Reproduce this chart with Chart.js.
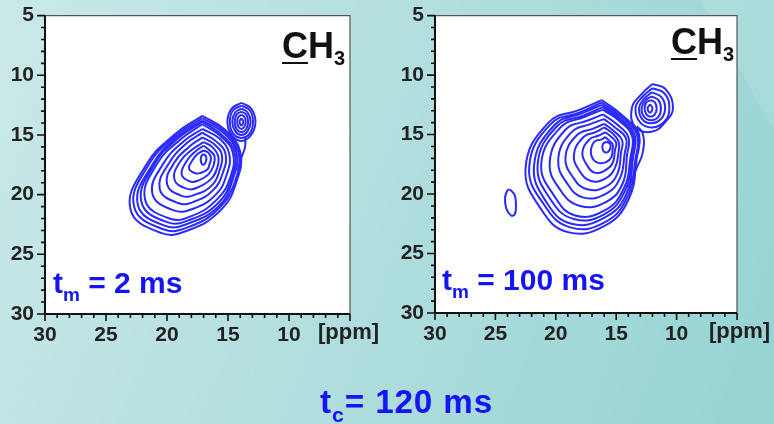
<!DOCTYPE html>
<html>
<head>
<meta charset="utf-8">
<script src="https://cdn.jsdelivr.net/npm/chart.js@4/dist/chart.umd.min.js"></script>
<style>
  html, body { margin: 0; padding: 0; }
  body {
    width: 774px; height: 424px; overflow: hidden; position: relative;
    background: linear-gradient(110deg, #cbe8e8 0%, #b3dfdf 45%, #96d3d3 100%);
    font-family: Arial, "Liberation Sans", sans-serif;
  }
  .band {
    position: absolute; left: 0; top: 0; width: 774px; height: 424px;
    background: rgba(255,255,255,0.12);
    clip-path: polygon(700px 0, 774px 0, 774px 130px);
  }
  .box { position: absolute; top: 0; height: 350px; }
  .lbl { position: absolute; white-space: nowrap; }
  .tm { font-size: 30px; line-height: 30px; font-weight: bold; color: #1414f5; }
  .tm sub { font-size: 19px; vertical-align: -8px; line-height: 0; }
  .ch { font-size: 36px; line-height: 36px; font-weight: bold; color: #111; }
  .ch u { text-decoration-thickness: 2px; text-underline-offset: 4px; }
  .ch sub { font-size: 20px; vertical-align: -7px; line-height: 0; }
  .ppm { font-size: 22px; line-height: 22px; font-weight: bold; color: #222; }
  .tc { font-size: 33px; line-height: 33px; font-weight: bold; color: #1414f5; letter-spacing: 1px; }
  .tc sub { font-size: 21px; vertical-align: -9px; line-height: 0; }
</style>
</head>
<body>
<div class="band"></div>
<div class="box" style="left:0;width:390px"><canvas id="left" width="390" height="350"></canvas></div>
<div class="box" style="left:390px;width:384px"><canvas id="right" width="384" height="350"></canvas></div>

<div class="lbl ch" style="left:282px;top:28px"><u>C</u>H<sub>3</sub></div>
<div class="lbl ch" style="left:671px;top:24px"><u>C</u>H<sub>3</sub></div>
<div class="lbl tm" style="left:53px;top:268px">t<sub>m</sub> = 2 ms</div>
<div class="lbl tm" style="left:442px;top:265px">t<sub>m</sub> = 100 ms</div>
<div class="lbl ppm" style="left:318px;top:321px">[ppm]</div>
<div class="lbl ppm" style="left:709px;top:320px">[ppm]</div>
<div class="lbl tc" style="left:320px;top:385px">t<sub>c</sub>= 120 ms</div>

<script>
// ---------- 축 (ppm, 양쪽 모두 30 -> 5) ----------
const AXIS_MIN = 5;
const AXIS_MAX = 30;
const xTickLabels = [30, 25, 20, 15, 10];
const yTickLabels = [5, 10, 15, 20, 25, 30];

// ---------- t_m = 2 ms : 주 피크 등고선 (바깥 -> 안쪽), [x ppm, y ppm] ----------
const mainRings2ms = [
  [[17.1,13.4],[15.2,14.6],[14.0,16.4],[14.3,18.9],[15.6,21.3],[18.3,23.0],[20.5,23.2],[23.0,21.2],[21.7,17.5],[19.3,14.9]],
  [[17.1,13.6],[15.3,14.7],[14.15,16.4],[14.4,18.8],[15.7,21.1],[18.2,22.7],[20.3,22.9],[22.7,21.0],[21.5,17.5],[19.2,15.0]],
  [[17.1,13.8],[15.4,14.8],[14.3,16.5],[14.6,18.7],[15.7,20.9],[18.2,22.4],[20.2,22.6],[22.4,20.8],[21.2,17.5],[19.1,15.1]],
  [[17.1,13.9],[15.5,15.0],[14.45,16.5],[14.7,18.6],[15.8,20.7],[18.1,22.1],[20.0,22.3],[22.1,20.6],[21.0,17.4],[19.0,15.2]],
  [[17.1,14.1],[15.6,15.1],[14.6,16.5],[14.8,18.5],[15.9,20.4],[18.0,21.8],[19.8,22.0],[21.8,20.4],[20.8,17.4],[18.8,15.3]],
  [[17.1,14.5],[15.7,15.3],[14.9,16.6],[15.1,18.3],[16.0,20.0],[17.9,21.2],[19.5,21.3],[21.2,19.9],[20.3,17.4],[18.6,15.5]],
  [[17.1,14.8],[15.9,15.6],[15.2,16.6],[15.4,18.1],[16.2,19.6],[17.8,20.6],[19.1,20.7],[20.6,19.5],[19.8,17.3],[18.4,15.7]],
  [[17.1,15.2],[16.1,15.8],[15.5,16.7],[15.7,18.0],[16.3,19.2],[17.7,20.0],[18.8,20.1],[20.0,19.1],[19.4,17.3],[18.2,16.0]],
  [[17.0,15.6],[16.3,16.0],[15.8,16.8],[15.9,17.8],[16.4,18.7],[17.5,19.4],[18.4,19.5],[19.4,18.7],[18.9,17.2],[17.9,16.2]],
  [[17.0,15.9],[16.5,16.3],[16.1,16.8],[16.2,17.6],[16.6,18.3],[17.4,18.8],[18.1,18.9],[18.8,18.3],[18.4,17.2],[17.7,16.4]],
  [[17.0,16.3],[16.6,16.5],[16.4,16.9],[16.5,17.4],[16.7,17.9],[17.3,18.2],[17.7,18.2],[18.2,17.8],[17.9,17.1],[17.5,16.6]],
  [[17.0,16.6],[16.8,16.8],[16.8,17.2],[17.0,17.5],[17.2,17.3],[17.2,16.8]],
];

// t_m = 2 ms : 작은 피크 (~13.9 ppm)
const smallRings2ms = [
  [[13.9,12.3],[13.1,12.8],[12.75,13.9],[13.1,15.0],[13.9,15.5],[14.7,15.0],[15.05,13.9],[14.7,12.8]],
  [[13.9,12.55],[13.2,12.95],[12.95,13.9],[13.2,14.85],[13.9,15.25],[14.6,14.85],[14.85,13.9],[14.6,12.95]],
  [[13.9,12.8],[13.4,13.1],[13.15,13.9],[13.4,14.7],[13.9,15.0],[14.4,14.7],[14.65,13.9],[14.4,13.1]],
  [[13.9,13.05],[13.5,13.3],[13.35,13.9],[13.5,14.5],[13.9,14.75],[14.3,14.5],[14.45,13.9],[14.3,13.3]],
  [[13.9,13.3],[13.65,13.5],[13.55,13.9],[13.65,14.3],[13.9,14.5],[14.15,14.3],[14.25,13.9],[14.15,13.5]],
  [[13.9,13.6],[13.75,13.9],[13.9,14.2],[14.05,13.9]],
];

// 두 피크 사이를 잇는 열린 등고선
const bridges2ms = [
  [[14.7,15.0],[14.5,15.8],[14.0,16.5]],
  [[13.6,15.2],[13.6,16.0],[13.9,16.9],[14.2,18.0]],
];

// ---------- t_m = 100 ms ----------
const mainRings100ms = [
  [[16.2,12.1],[14.6,13.3],[13.2,14.9],[13.3,17.0],[14.0,20.5],[16.0,22.7],[19.0,23.2],[21.2,21.3],[22.5,17.8],[20.6,14.0],[18.0,12.9]],
  [[16.2,12.3],[14.7,13.4],[13.3,15.0],[13.4,17.0],[14.1,20.3],[16.0,22.4],[18.8,22.8],[20.9,21.0],[22.2,17.7],[20.4,14.1],[17.9,13.1]],
  [[16.2,12.5],[14.7,13.6],[13.5,15.0],[13.6,16.9],[14.2,20.1],[16.0,22.0],[18.7,22.5],[20.7,20.8],[21.8,17.6],[20.1,14.2],[17.8,13.2]],
  [[16.1,12.7],[14.8,13.7],[13.6,15.1],[13.7,16.9],[14.3,19.8],[16.0,21.7],[18.5,22.1],[20.4,20.5],[21.5,17.5],[19.9,14.3],[17.7,13.4]],
  [[16.1,12.9],[14.8,13.8],[13.7,15.1],[13.8,16.8],[14.4,19.6],[16.0,21.4],[18.4,21.8],[20.1,20.2],[21.2,17.4],[19.6,14.4],[17.6,13.5]],
  [[16.1,13.3],[15.0,14.1],[14.0,15.2],[14.1,16.7],[14.5,19.2],[15.9,20.7],[18.0,21.0],[19.6,19.7],[20.5,17.3],[19.2,14.6],[17.3,13.8]],
  [[16.0,13.7],[15.1,14.4],[14.2,15.3],[14.3,16.6],[14.7,18.7],[15.9,20.0],[17.7,20.3],[19.0,19.2],[19.8,17.1],[18.7,14.8],[17.1,14.1]],
  [[16.0,14.1],[15.2,14.7],[14.5,15.5],[14.6,16.5],[14.9,18.3],[15.9,19.4],[17.4,19.6],[18.5,18.7],[19.2,16.9],[18.2,15.0],[16.9,14.5]],
  [[16.0,14.4],[15.3,14.9],[14.8,15.6],[14.8,16.4],[15.1,17.8],[15.9,18.7],[17.1,18.9],[18.0,18.1],[18.5,16.7],[17.7,15.2],[16.7,14.8]],
  [[15.9,14.8],[15.4,15.2],[15.0,15.7],[15.1,16.3],[15.3,17.4],[15.9,18.0],[16.8,18.2],[17.4,17.6],[17.8,16.5],[17.2,15.4],[16.5,15.1]],
  [[15.9,15.2],[15.6,15.5],[15.3,15.8],[15.3,16.2],[15.4,16.9],[15.8,17.3],[16.4,17.4],[16.9,17.1],[17.1,16.4],[16.8,15.6],[16.2,15.4]],
  [[15.8,15.6],[15.5,15.8],[15.5,16.2],[15.8,16.5],[16.1,16.3],[16.1,15.8]],
];

const smallRings100ms = [
  [[12.0,10.75],[10.9,11.2],[10.3,12.75],[10.9,13.9],[12.0,14.75],[13.4,14.4],[13.7,12.75],[12.9,11.6]],
  [[12.0,11.1],[11.0,11.55],[10.6,12.75],[11.0,13.9],[12.0,14.4],[13.0,14.0],[13.4,12.75],[12.8,11.8]],
  [[12.05,11.45],[11.25,11.85],[10.95,12.75],[11.25,13.65],[12.1,14.05],[12.85,13.7],[13.1,12.75],[12.7,12.0]],
  [[12.1,11.8],[11.5,12.1],[11.3,12.8],[11.5,13.5],[12.1,13.8],[12.7,13.5],[12.9,12.8],[12.6,12.15]],
  [[12.15,12.1],[11.8,12.3],[11.65,12.8],[11.8,13.3],[12.15,13.5],[12.5,13.3],[12.65,12.8],[12.5,12.3]],
  [[12.2,12.45],[12.0,12.8],[12.2,13.15],[12.4,12.8]],
];

const bridges100ms = [
  [[13.3,14.3],[12.8,14.9],[12.8,16.5],[13.3,17.8],[14.0,19.5]],
  [[13.6,14.2],[13.1,15.0],[13.2,16.6]],
];

// 24 ppm 근처의 고립된 작은 등고선
const isolated100ms = [
  [[23.8,19.6],[23.4,20.1],[23.3,21.0],[23.4,21.7],[23.7,21.8],[24.1,21.2],[24.2,20.3],[24.0,19.7]],
];

// ---------- 스타일 ----------
const CONTOUR_COLOR = '#2a2aff';
const AXIS_COLOR = '#111';

function toPoints(ring, closed) {
  const pts = ring.map(([x, y]) => ({ x, y }));
  if (closed) pts.push({ x: ring[0][0], y: ring[0][1] });
  return pts;
}

function contourSets(rings, closed) {
  return rings.map((r) => ({
    data: toPoints(r, closed),
    showLine: true,
    borderColor: CONTOUR_COLOR,
    borderWidth: 2,
    pointRadius: 0,
    tension: 0.45,
    fill: false,
  }));
}

// 흰 플롯 영역 + 위/오른쪽 얇은 테두리 + 주/보조 눈금
const framePlugin = {
  id: 'frame',
  beforeDatasetsDraw(chart) {
    const { ctx, chartArea: a } = chart;
    ctx.save();
    ctx.fillStyle = '#fff';
    ctx.fillRect(a.left, a.top, a.right - a.left, a.bottom - a.top);
    ctx.restore();
  },
  afterDraw(chart) {
    const { ctx, chartArea: a, scales: { x, y } } = chart;
    ctx.save();
    ctx.strokeStyle = '#555';
    ctx.lineWidth = 1.2;
    ctx.beginPath();
    ctx.moveTo(a.left, a.top);
    ctx.lineTo(a.right, a.top);
    ctx.lineTo(a.right, a.bottom);
    ctx.stroke();

    ctx.strokeStyle = AXIS_COLOR;
    ctx.lineWidth = 2;
    ctx.beginPath();
    ctx.moveTo(a.left, a.top);
    ctx.lineTo(a.left, a.bottom);
    ctx.lineTo(a.right, a.bottom);
    ctx.stroke();

    ctx.lineWidth = 1.6;
    ctx.beginPath();
    for (const t of x.ticks) {
      const px = x.getPixelForValue(t.value);
      const len = t.value % 5 === 0 ? 7 : 4;
      ctx.moveTo(px, a.bottom);
      ctx.lineTo(px, a.bottom + len);
    }
    for (const t of y.ticks) {
      const py = y.getPixelForValue(t.value);
      const len = t.value % 5 === 0 ? 8 : 4;
      ctx.moveTo(a.left - len, py);
      ctx.lineTo(a.left, py);
    }
    ctx.stroke();
    ctx.restore();
  },
};

function makeChart(id, datasets, padRight, xHeight) {
  return new Chart(document.getElementById(id), {
    type: 'scatter',
    data: { datasets },
    plugins: [framePlugin],
    options: {
      responsive: false,
      animation: false,
      layout: { padding: { top: 13, right: padRight, left: 0, bottom: 0 } },
      plugins: { legend: { display: false }, tooltip: { enabled: false } },
      scales: {
        x: {
          type: 'linear', reverse: true, min: AXIS_MIN, max: AXIS_MAX,
          afterFit: (s) => { s.height = xHeight; },
          border: { display: false },
          grid: { drawOnChartArea: false, drawTicks: true, tickLength: 8, tickColor: 'rgba(0,0,0,0)' },
          ticks: {
            stepSize: 1, autoSkip: false, maxRotation: 0, padding: 1,
            color: '#222', font: { family: 'Arial', size: 21, weight: 'bold' },
            callback: (v) => (xTickLabels.includes(v) ? String(v) : ''),
          },
        },
        y: {
          type: 'linear', reverse: true, min: AXIS_MIN, max: AXIS_MAX,
          afterFit: (s) => { s.width = 45; },
          border: { display: false },
          grid: { drawOnChartArea: false, drawTicks: true, tickLength: 8, tickColor: 'rgba(0,0,0,0)' },
          ticks: {
            stepSize: 1, autoSkip: false, padding: 3,
            color: '#222', font: { family: 'Arial', size: 21, weight: 'bold' },
            callback: (v) => (yTickLabels.includes(v) ? String(v) : ''),
          },
        },
      },
    },
  });
}

makeChart('left', [
  ...contourSets(mainRings2ms, true),
  ...contourSets(smallRings2ms, true),
  ...contourSets(bridges2ms, false),
], 40, 36);

makeChart('right', [
  ...contourSets(mainRings100ms, true),
  ...contourSets(smallRings100ms, true),
  ...contourSets(bridges100ms, false),
  ...contourSets(isolated100ms, true),
], 37, 37);
</script>
</body>
</html>
